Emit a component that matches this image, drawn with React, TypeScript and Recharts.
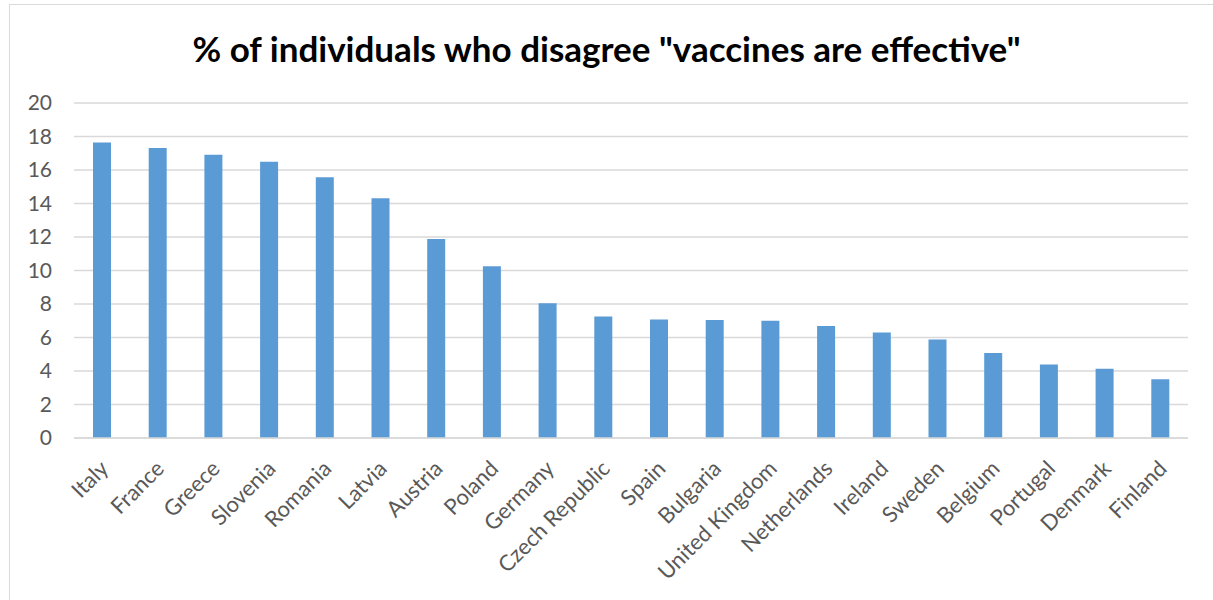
import React from "react";
import { BarChart, Bar, XAxis, YAxis, CartesianGrid } from "recharts";

const countries = [
  "Italy", "France", "Greece", "Slovenia", "Romania", "Latvia", "Austria",
  "Poland", "Germany", "Czech Republic", "Spain", "Bulgaria", "United Kingdom",
  "Netherlands", "Ireland", "Sweden", "Belgium", "Portugal", "Denmark", "Finland",
];

const disagreePct = [
  17.64, 17.31, 16.91, 16.49, 15.57, 14.32, 11.88, 10.25, 8.04, 7.26,
  7.08, 7.04, 7.0, 6.68, 6.3, 5.88, 5.08, 4.39, 4.13, 3.51,
];

const yTicks = [0, 2, 4, 6, 8, 10, 12, 14, 16, 18, 20];

const titleText = '% of individuals who disagree "vaccines are effective"';

const data = countries.map((country, i) => ({ country, value: disagreePct[i] }));

const FONT = "Lato, 'Open Sans', sans-serif";
const LABEL_COLOR = "#595959";

const CountryTick = (props: any) => {
  const { x, payload } = props;
  return (
    <text
      transform={`translate(${x + 8},${470}) rotate(-45)`}
      textAnchor="end"
      fill={LABEL_COLOR}
      fontSize={22}
      fontFamily={FONT}
    >
      {payload.value}
    </text>
  );
};

export default function App() {
  return (
    <div
      style={{
        position: "absolute",
        left: 0,
        top: 0,
        width: 1213,
        height: 600,
        background: "#fff",
        overflow: "hidden",
      }}
    >
      <div
        style={{
          position: "absolute",
          left: 9,
          top: 4,
          width: 1220,
          height: 620,
          borderTop: "1.5px solid #d9d9d9",
          borderLeft: "1.5px solid #d9d9d9",
        }}
      />
      <div
        style={{
          position: "absolute",
          left: 0,
          top: 26,
          width: 1213,
          textAlign: "center",
          fontFamily: FONT,
          fontWeight: 700,
          fontSize: 35,
          color: "#000",
          lineHeight: "44px",
        }}
      >
        {titleText}
      </div>
      <div style={{ position: "absolute", left: 0, top: 0 }}>
        <BarChart
          width={1213}
          height={600}
          data={data}
          margin={{ top: 103, right: 25, bottom: 0, left: 0 }}
        >
          <CartesianGrid vertical={false} stroke="#d9d9d9" strokeWidth={1.3} />
          <XAxis
            dataKey="country"
            height={162}
            interval={0}
            tickLine={false}
            axisLine={{ stroke: "#d9d9d9", strokeWidth: 1.3 }}
            tick={<CountryTick />}
          />
          <YAxis
            width={74}
            domain={[0, 20]}
            ticks={yTicks}
            interval={0}
            tickLine={false}
            axisLine={false}
            tickMargin={16}
            tick={{ fill: LABEL_COLOR, fontSize: 21, fontFamily: FONT }}
          />
          <Bar dataKey="value" fill="#5b9bd5" barSize={18} isAnimationActive={false} />
        </BarChart>
      </div>
    </div>
  );
}
